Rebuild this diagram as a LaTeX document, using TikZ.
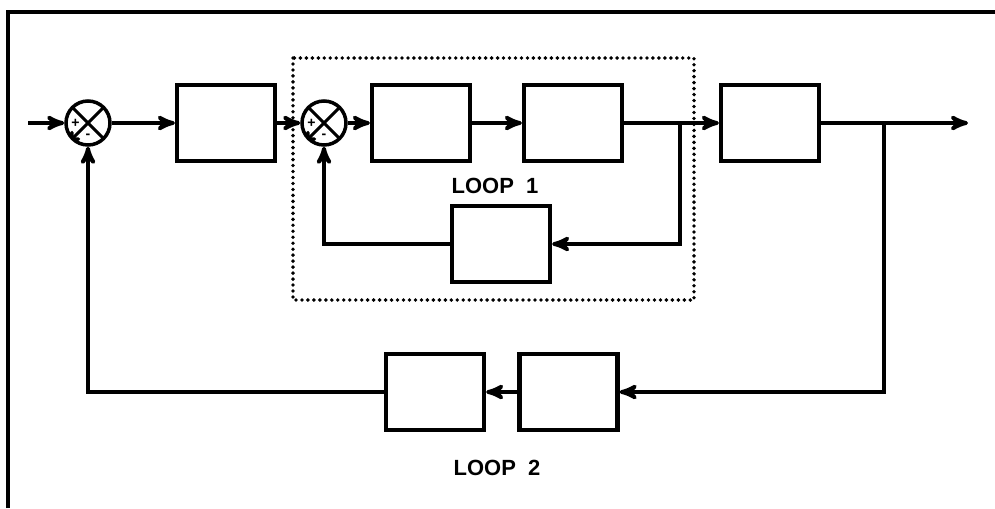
\documentclass[tikz,border=0pt]{standalone}
\usepackage{fontspec}
\setmainfont{Liberation Sans}
\usepackage{tikz}
\usetikzlibrary{arrows}

\tikzset{
	block/.style={draw, rectangle, line width=2.4pt, minimum width=1.96cm, minimum height=1.52cm},
	summer/.style={draw, circle, line width=2pt, minimum size=0.88cm, inner sep=0pt,
		path picture={
			\draw[line width=1.8pt] (path picture bounding box.north west) -- (path picture bounding box.south east)
			(path picture bounding box.north east) -- (path picture bounding box.south west);
			\node[font=\bfseries\footnotesize, inner sep=0pt] at ([xshift=-0.25cm]path picture bounding box.center) {+};
			\node[font=\bfseries\footnotesize, inner sep=0pt] at ([yshift=-0.26cm]path picture bounding box.center) {-};
		}},
	looplabel/.style={font=\bfseries\fontsize{12.5}{14}\selectfont}
}

\begin{document}
\begin{tikzpicture}[->,>=stealth',line width=2.2pt]
	\useasboundingbox (0,0) rectangle (19.9,-10.16);

	% frame
	\draw[-, line width=2.6pt] (0.16,-10.16) |- (19.9,-0.24);

	\coordinate (in) at (0.56,-2.46);
	\node[summer] (Sum1) at (1.76,-2.46) {};
	\node[block, node distance=2.76cm] (G1) [right of=Sum1] {};
	\node[summer, node distance=1.96cm] (Sum2) [right of=G1] {};
	\node[block, node distance=1.94cm] (G2) [right of=Sum2] {};
	\node[block, node distance=3.04cm] (G3) [right of=G2] {};
	\node[block, node distance=3.94cm] (G4) [right of=G3] {};
	\coordinate (out) at (19.36,-2.46);

	% loop 1
	\node[block] (H1) at (10.02,-4.88) {};
	\coordinate (B1) at (13.6,-2.46);
	\node[looplabel] (L1) at (9.9,-3.72) {LOOP~~1};
	\draw[-, line width=2.2pt, dash pattern=on 0pt off 3.4pt, line cap=round]
		(5.86,-1.16) rectangle (13.88,-6.0);

	% loop 2
	\node[block] (H3) at (11.37,-7.84) {};
	\node[block] (H2) at (8.7,-7.84) {};
	\coordinate (B2) at (17.68,-2.46);
	\node[looplabel] (L2) at (9.94,-9.36) {LOOP~~2};

	\draw (in) -- (Sum1);
	\draw (Sum1) -- (G1);
	\draw (G1) -- (Sum2);
	\draw (Sum2) -- (G2);
	\draw (G2) -- (G3);
	\draw (G3) -- (G4);
	\draw (G4) -- (out);
	\draw (B1) |- (H1.east);
	\draw (H1.west) -| (Sum2.south);
	\draw (B2) |- (H3.east);
	\draw (H3) -- (H2);
	\draw (H2.west) -| (Sum1.south);
\end{tikzpicture}
\end{document}
